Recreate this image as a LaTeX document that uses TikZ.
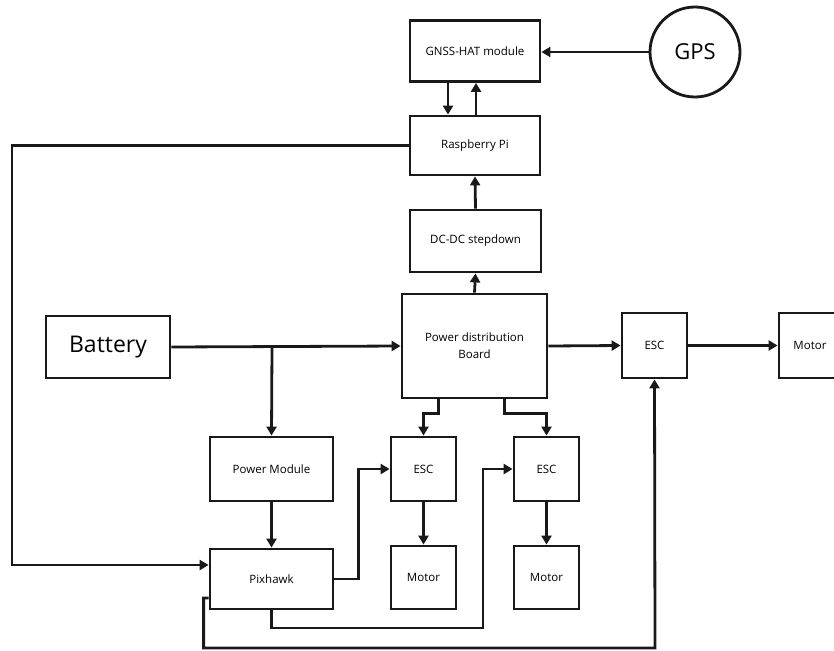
\documentclass[tikz,border=0pt]{standalone}
\usepackage{fontspec}
\setmainfont{Open Sans}
\usetikzlibrary{arrows.meta}
\begin{document}
\begin{tikzpicture}[x=1pt,y=-1pt,line width=2.8pt,>={Triangle[length=9pt,width=10pt]}]
        %colores
        \colorlet{linea}{black!90}
        \tikzset{bloque/.style={draw=linea,line width=2.8pt,inner sep=0pt,align=center,
                 font=\fontsize{11.5}{17}\selectfont},
                 flecha/.style={->,draw=linea,line width=2.8pt}}
        \useasboundingbox (0,0) rectangle (834,650);

        % bloques de arriba
        \node[bloque,minimum width=130pt,minimum height=61pt] (gnss) at (475,51) {GNSS-HAT module};
        \node[bloque,circle,minimum size=90pt,font=\fontsize{22}{26}\selectfont] (gps) at (695,52) {GPS};
        \node[bloque,minimum width=130pt,minimum height=59pt] (rpi) at (475,145.5) {Raspberry Pi};
        \node[bloque,minimum width=131pt,minimum height=62pt] (dcdc) at (475.5,241) {DC-DC stepdown};

        % fila central
        \node[bloque,minimum width=124pt,minimum height=62pt,font=\fontsize{23}{27}\selectfont] (bat) at (108,347) {Battery};
        \node[bloque,minimum width=145pt,minimum height=104pt] (pdb) at (474.5,346) {Power distribution\\Board};
        \node[bloque,minimum width=65pt,minimum height=65pt] (esc) at (654.5,345.5) {ESC};
        \node[bloque,minimum width=62pt,minimum height=65pt] (mot) at (810,345.5) {Motor};

        % fila de abajo
        \node[bloque,minimum width=123pt,minimum height=64pt] (pm) at (271.5,469) {Power Module};
        \node[bloque,minimum width=123pt,minimum height=60pt] (pix) at (271.5,579) {Pixhawk};
        \node[bloque,minimum width=65pt,minimum height=64pt] (escA) at (423.5,469) {ESC};
        \node[bloque,minimum width=65pt,minimum height=63pt] (motA) at (423.5,577.5) {Motor};
        \node[bloque,minimum width=65pt,minimum height=64pt] (escB) at (546.5,469) {ESC};
        \node[bloque,minimum width=65pt,minimum height=63pt] (motB) at (546.5,577.5) {Motor};

        % puntos de quiebre
        \coordinate (rama) at (272,347);
        \coordinate (codo) at (12,565);
        \coordinate (baja) at (483,628);
        \coordinate (fondo) at (655,648);

        % GPS y Raspberry
        \draw[flecha] (gps.west) -- (gnss.east |- gps.west);
        \draw[flecha] ([xshift=-27pt]gnss.south) -- ([xshift=-27pt]rpi.north);
        \draw[flecha] ([xshift=1pt]rpi.north) -- ([xshift=1pt]gnss.south);
        \draw[flecha] (dcdc.north) -- (rpi.south);
        \draw[flecha] (pdb.north) -- (dcdc.south);

        % potencia
        \draw[flecha] (bat.east) -- (pdb.west);
        \draw[flecha] (rama) -- (pm.north);
        \draw[flecha] (pdb.east) -- (esc.west);
        \draw[flecha] (esc.east) -- (mot.west);
        \draw[flecha] ([xshift=-36pt]pdb.south) -- ++(0,14) -| (escA.north);
        \draw[flecha] ([xshift=30pt]pdb.south) -- ++(0,14) -| (escB.north);
        \draw[flecha] (pm.south) -- (pix.north);
        \draw[flecha] (escA.south) -- (motA.north);
        \draw[flecha] (escB.south) -- (motB.north);

        % senales
        \draw[flecha] (rpi.west) -| (codo) -- (codo -| pix.west);
        \draw[flecha] (pix.east) -- ++(24,0) |- (escA.west);
        \draw[flecha] (pix.south) |- (baja) |- (escB.west);
        \draw[flecha] ([yshift=-19pt]pix.west) -- ++(-5,0) |- (fondo) -- (esc.south);
\end{tikzpicture}
\end{document}
